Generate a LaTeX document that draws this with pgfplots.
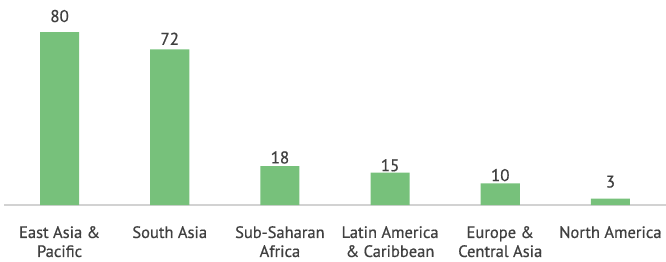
\documentclass[border=0pt]{standalone}
\usepackage{pgfplots}
\pgfplotsset{compat=1.18}
\usepackage{pgfplotstable}
\usepackage{fontspec}
\setmainfont{PT Sans}
\newfontfamily\lab[FakeBold=0.6]{PT Sans}
\definecolor{barg}{HTML}{77C17B}
\definecolor{txt}{HTML}{404040}
\pgfplotstableread{
x y off
0 80 10
1 72 4.5
2 18 2.7
3 15 1.4
4 10 2.3
5 3 11
}\datatab
\begin{document}
\begin{tikzpicture}
\begin{axis}[name=ax, at={(0,0)}, anchor=south west,
  scale only axis, width=661pt, height=205pt,
  xmin=-0.5, xmax=5.5, ymin=0, ymax=94.8,
  axis x line=bottom, axis y line=none,
  x axis line style={draw=gray!35, line width=1.2pt, -},
  xtick={0,...,5}, major tick length=0pt,
  xticklabels={{East Asia \&\\Pacific}, {South Asia}, {Sub-Saharan\\Africa}, {Latin America\\\& Caribbean}, {Europe \&\\Central Asia}, {North America}},
  xticklabel style={align=center, anchor=north, inner sep=0pt, yshift=-21pt, font=\lab\fontsize{16.5}{19}\selectfont, text=txt},
  /pgf/number format/assume math mode=true,
  clip=false]
\addplot[ybar, bar width=0.355, fill=barg, draw=none,
  nodes near coords,
  visualization depends on={\thisrow{off} \as \off},
  nodes near coords style={anchor=base, inner sep=0pt, yshift=\off pt, font=\lab\fontsize{17}{19}\selectfont, text=txt}]
  table[x=x, y=y] {\datatab};
\end{axis}
\pgfresetboundingbox
\path ([xshift=-4.5pt,yshift=-56pt]ax.south west) rectangle ([xshift=0.5pt]ax.north east);
\end{tikzpicture}
\end{document}
